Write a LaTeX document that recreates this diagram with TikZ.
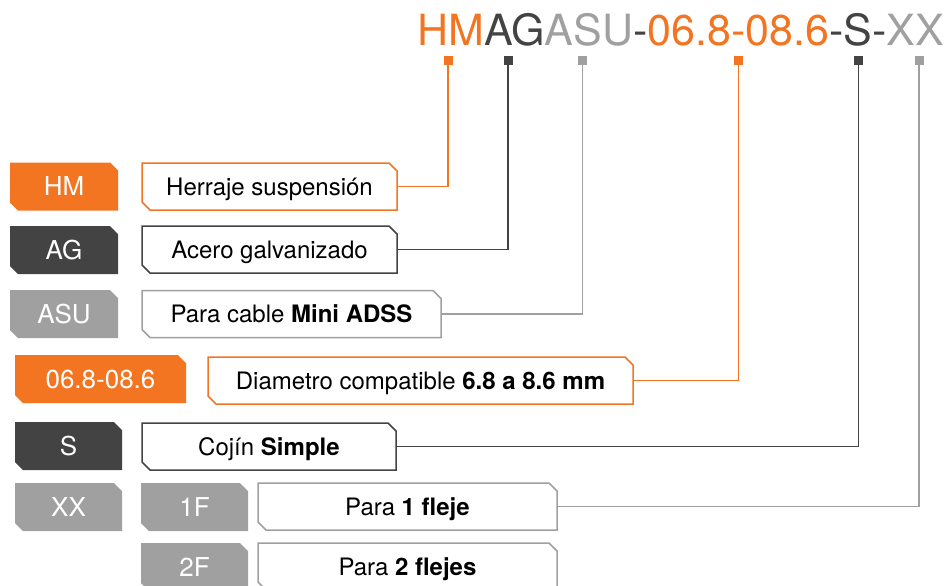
\documentclass[tikz,border=0pt]{standalone}
\usepackage{fontspec}
\setmainfont{TeX Gyre Heros}
\usetikzlibrary{shapes.misc}

\definecolor{hmorange}{HTML}{F37521}
\definecolor{hmdark}{HTML}{434343}
\definecolor{hmgrey}{HTML}{A0A0A0}

\tikzset{
  tagbox/.style={chamfered rectangle, chamfered rectangle corners={north east,south west},
    chamfered rectangle xsep=4pt, chamfered rectangle ysep=4pt, inner sep=0pt,
    minimum height=48pt, text height=18.5pt, text depth=0pt,
    fill=#1, text=white, font=\fontsize{26}{26}\selectfont},
  descbox/.style={chamfered rectangle, chamfered rectangle corners={north east,south west},
    chamfered rectangle xsep=4pt, chamfered rectangle ysep=4pt, inner sep=0pt,
    minimum height=47pt, text height=17.5pt, text depth=0pt,
    draw=#1, line width=1.5pt, fill=white, text=black,
    font=\fontsize{24}{24}\selectfont},
  marker/.style={fill=#1, inner sep=0pt, minimum size=9pt},
  link/.style={draw=#1, line width=1.7pt}
}

\begin{document}
\begin{tikzpicture}[x=1pt,y=-1pt]
    \useasboundingbox (0,0) rectangle (946,586);

    % Code
    \node[anchor=base east, inner sep=0pt, font=\fontsize{43}{43}\selectfont] (code) at (944,45.5)
      {\textcolor{hmorange}{HM}\textcolor{hmdark}{AG}\textcolor{hmgrey}{ASU}\textcolor{hmdark}{-}\textcolor{hmorange}{06.8-08.6}\textcolor{hmdark}{-S-}\textcolor{hmgrey}{XX}};

    % Markers
    \node[marker=hmorange] (mHM) at (448,60.5) {};
    \node[marker=hmdark] (mAG) at (508,60.5) {};
    \node[marker=hmgrey] (mASU) at (582.5,60.5) {};
    \node[marker=hmorange] (mDia) at (738.5,60.5) {};
    \node[marker=hmdark] (mS) at (858.5,60.5) {};
    \node[marker=hmgrey] (mXX) at (919,60.5) {};

    % Tags
    \node[tagbox=hmorange, minimum width=108pt] (tHM) at (64,186.5) {HM};
    \node[tagbox=hmdark, minimum width=108pt] (tAG) at (64,250) {AG};
    \node[tagbox=hmgrey, minimum width=108pt] (tASU) at (64,314) {ASU};
    \node[tagbox=hmorange, minimum width=171pt] (tDia) at (100.5,379) {06.8-08.6};
    \node[tagbox=hmdark, minimum width=107pt] (tS) at (68.5,446) {S};
    \node[tagbox=hmgrey, minimum width=107pt] (tXX) at (68.5,507) {XX};
    \node[tagbox=hmgrey, minimum width=107pt] (t1F) at (194.5,507) {1F};
    \node[tagbox=hmgrey, minimum width=107pt] (t2F) at (194.5,567) {2F};

    % Descriptions
    \node[descbox=hmorange, minimum width=255pt] (bHM) at (269.5,186.5) {Herraje suspensión};
    \node[descbox=hmdark, minimum width=255pt] (bAG) at (269.5,249.5) {Acero galvanizado};
    \node[descbox=hmgrey, minimum width=299pt] (bASU) at (291.5,314) {Para cable \textbf{Mini ADSS}};
    \node[descbox=hmorange, minimum width=425pt] (bDia) at (420.5,380.5) {Diametro compatible \textbf{6.8 a 8.6 mm}};
    \node[descbox=hmdark, minimum width=254pt] (bS) at (269,446.5) {Cojín \textbf{Simple}};
    \node[descbox=hmgrey, minimum width=299pt] (b1F) at (407.5,506.5) {Para \textbf{1 fleje}};
    \node[descbox=hmgrey, minimum width=299pt] (b2F) at (407.5,566.5) {Para \textbf{2 flejes}};

    % Leader lines
    \draw[link=hmorange] (mHM.south) |- (bHM.east);
    \draw[link=hmdark] (mAG.south) |- (bAG.east);
    \draw[link=hmgrey] (mASU.south) |- (bASU.east);
    \draw[link=hmorange] (mDia.south) |- (bDia.east);
    \draw[link=hmdark] (mS.south) |- (bS.east);
    \draw[link=hmgrey] (mXX.south) |- (b1F.east);
\end{tikzpicture}
\end{document}
